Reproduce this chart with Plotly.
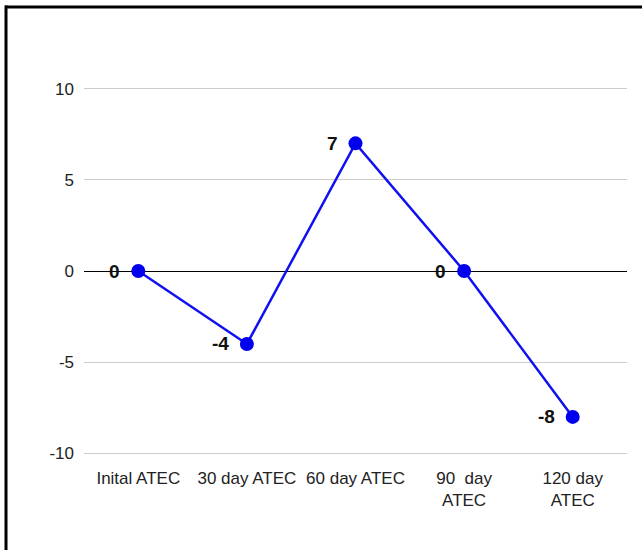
import plotly.graph_objects as go

categories = ["Inital ATEC", "30 day ATEC", "60 day ATEC", "90  day<br>ATEC", "120 day<br>ATEC"]
values = [0, -4, 7, 0, -8]
y_ticks = [-10, -5, 0, 5, 10]

W, H = 642, 550
L, R, T, B = 84, 15, 85.4, 93.4
pw, ph = W - L - R, H - T - B

xs = list(range(len(categories)))

fig = go.Figure()
fig.add_trace(go.Scatter(
    x=xs, y=values,
    mode="lines+markers",
    line=dict(color="#1010f0", width=2.5),
    marker=dict(color="#0000ee", size=14),
    cliponaxis=False,
    showlegend=False,
))

annotations = [
    dict(x=x, y=v, text=str(v), showarrow=False, xanchor="right", yanchor="middle",
         xshift=-16, font=dict(family="Liberation Sans", size=19, color="#111111", weight="bold"))
    for x, v in zip(xs, values)
]

fig.update_layout(
    width=W, height=H,
    margin=dict(l=L, r=R, t=T, b=B),
    paper_bgcolor="white", plot_bgcolor="white",
    font=dict(family="Liberation Sans", size=17, color="#222222"),
    xaxis=dict(
        tickmode="array", tickvals=xs, ticktext=categories,
        range=[-0.5, 4.5], showgrid=False, zeroline=False, showline=False,
        ticks="", ticklabelstandoff=9,
    ),
    yaxis=dict(
        tickmode="array", tickvals=y_ticks, ticktext=[str(t) for t in y_ticks],
        range=[-10.2, 10.2], showgrid=True, gridcolor="#cccccc", gridwidth=1,
        zeroline=True, zerolinecolor="#000000", zerolinewidth=1,
        showline=False, ticks="", ticklabelstandoff=9,
    ),
    annotations=annotations,
    shapes=[
        dict(type="line", xref="paper", yref="paper",
             x0=(6 - L) / pw, x1=(6 - L) / pw, y0=(H - B - 6) / ph, y1=-(B + 5) / ph,
             line=dict(color="black", width=3)),
        dict(type="line", xref="paper", yref="paper",
             x0=(5 - L) / pw, x1=(W + 5 - L) / pw, y0=(H - B - 7.5) / ph, y1=(H - B - 7.5) / ph,
             line=dict(color="black", width=3)),
    ],
)

fig.write_html("out.html", config={"displayModeBar": False},
               post_script="document.body.style.margin='0';")
